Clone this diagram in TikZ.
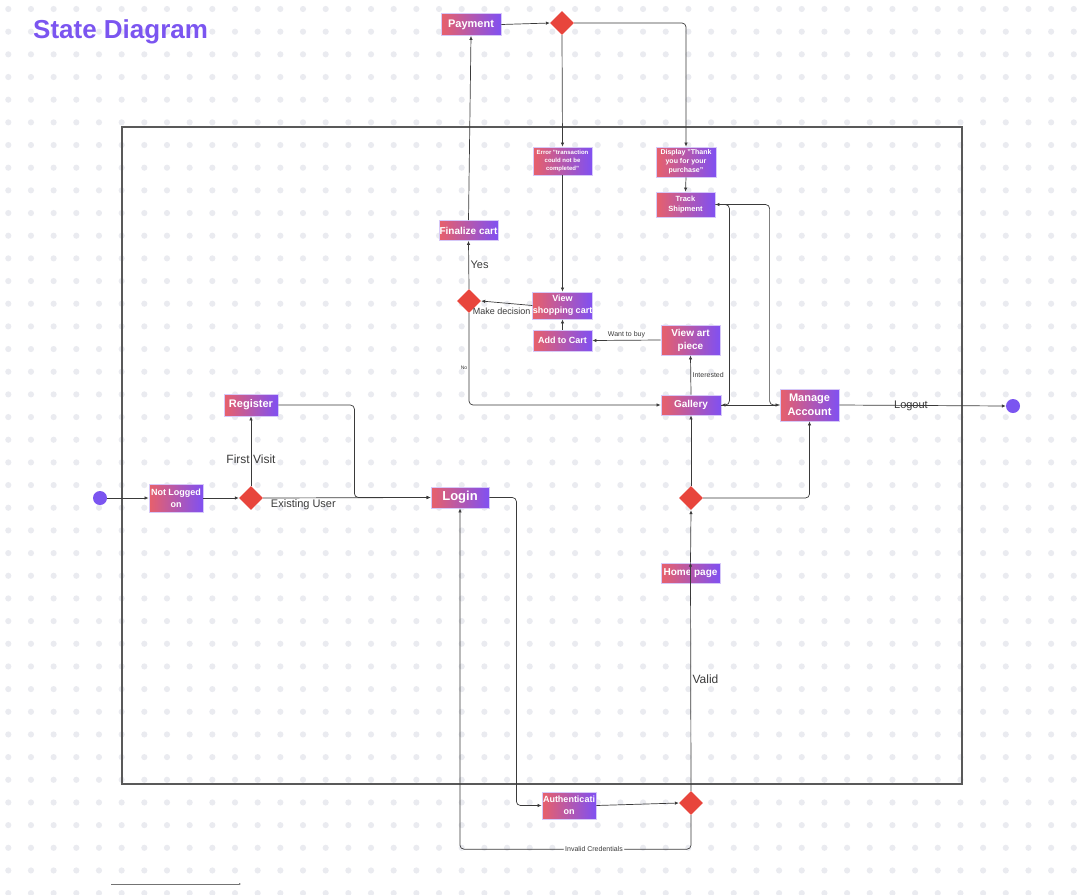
\documentclass[tikz,border=0pt]{standalone}
\usepackage{fontspec}
\setmainfont{Liberation Sans}
\usetikzlibrary{shapes.geometric,arrows.meta}
\definecolor{stred}{HTML}{E8606A}
\definecolor{stpurple}{HTML}{8050F2}
\definecolor{stedge}{HTML}{D6C8F8}
\definecolor{dred}{HTML}{E8453C}
\definecolor{dotgray}{HTML}{EAEBF0}
\definecolor{linegray}{HTML}{3A3A3A}
\definecolor{titlepurple}{HTML}{7B55F0}
\tikzset{
  state/.style={draw=stedge, line width=0.8pt, left color=stred, right color=stpurple,
    text=white, inner sep=0pt, align=center},
  choice/.style={diamond, fill=dred, inner sep=0pt, minimum size=24pt},
  dot/.style={circle, fill=titlepurple, inner sep=0pt, minimum size=14pt},
  conn/.style={draw=linegray, line width=0.7pt, -{Latex[length=4pt,width=3.5pt]}},
  lbl/.style={text=linegray, inner sep=1.5pt}
}
\newcommand{\fs}[1]{\fontsize{#1}{\the\dimexpr #1pt*13/10\relax}\selectfont}
\begin{document}
\begin{tikzpicture}[x=1pt,y=-1pt]
\useasboundingbox (0,0) rectangle (1080,895);
\foreach \i in {0,...,47}
  \foreach \j in {0,...,39}
    \fill[dotgray] (8.3+22.67*\i,9+22.67*\j) circle (3.1);
\node[anchor=base west, inner sep=0pt, text=titlepurple, font=\fontsize{26}{30}\selectfont\bfseries] (title) at (33,38) {State Diagram};
\draw[line width=1.2pt, draw=black!65] (122,127) rectangle (962,784);

% states
\node[state, minimum width=60pt, minimum height=22pt, font=\fs{11}\bfseries] (pay) at (471,24.5) {Payment};
\node[choice] (dpay) at (562,23) {};
\node[state, minimum width=59pt, minimum height=28pt, font=\fs{6}\bfseries] (err) at (562.5,161) {Error "transaction\\could not be\\completed"};
\node[state, minimum width=60pt, minimum height=30pt, font=\fs{7}\bfseries] (disp) at (686,162) {Display "Thank\\you for your\\purchase"};
\node[state, minimum width=59pt, minimum height=25pt, font=\fs{7.5}\bfseries] (track) at (685.5,204.5) {Track\\Shipment};
\node[state, minimum width=59pt, minimum height=20pt, font=\fs{10}\bfseries] (fin) at (468.5,230.5) {Finalize cart};
\node[choice] (ddec) at (469,301) {};
\node[state, minimum width=59pt, minimum height=27pt, font=\fs{9}\bfseries] (view) at (562.5,305.5) {View\\shopping cart};
\node[state, minimum width=59pt, minimum height=21pt, font=\fs{9}\bfseries] (add) at (562.5,340.5) {Add to Cart};
\node[state, minimum width=59pt, minimum height=30pt, font=\fs{10}\bfseries] (art) at (690.5,340) {View art\\piece};
\node[state, minimum width=60pt, minimum height=20pt, font=\fs{10}\bfseries] (gal) at (691,405) {Gallery};
\node[state, minimum width=59pt, minimum height=32pt, font=\fs{11}\bfseries] (man) at (809.5,405) {Manage\\Account};
\node[dot] (fin dot) at (1013,406) {};
\node[dot] (start) at (100,498) {};
\node[state, minimum width=54pt, minimum height=28pt, font=\fs{9}\bfseries] (nlo) at (176,498) {Not Logged\\on};
\node[choice] (dvisit) at (251,498) {};
\node[state, minimum width=54pt, minimum height=22pt, font=\fs{11}\bfseries] (reg) at (251,405) {Register};
\node[state, minimum width=58pt, minimum height=21pt, font=\fs{13}\bfseries] (login) at (460,497.5) {Login};
\node[state, minimum width=54pt, minimum height=27pt, font=\fs{9}\bfseries] (auth) at (569,805.5) {Authenticati\\on};
\node[choice] (dauth) at (691,803) {};
\node[state, minimum width=59pt, minimum height=20pt, font=\fs{10}\bfseries] (home) at (690.5,573) {Home page};
\node[choice] (dhome) at (691,498) {};

% transitions
\draw[conn] (pay.east) -- (dpay.west);
\draw[conn, rounded corners=4pt] (dpay.east) -| (disp.north);
\draw[conn] (dpay.south) -- (err.north);
\draw[conn] (disp.south) -- (track.north);
\draw[conn] (fin.north) -- (pay.south);
\draw[conn] (ddec.north) -- node[lbl, right, font=\fs{11}] {Yes} (fin.south);
\draw[conn] (err.south) -- (view.north);
\draw[conn] (view.west) -- node[lbl, pos=0.6, below=3pt, font=\fs{9}] {Make decision} (ddec.east);
\draw[conn] (add.north) -- (view.south);
\draw[conn] (art.west) -- node[lbl, above, font=\fs{7}] {Want to buy} (add.east);
\draw[conn] (gal.north) -- node[lbl, right, font=\fs{7}] {Interested} (art.south);
\draw[conn, rounded corners=4pt] (ddec.south) |- node[lbl, pos=0.3, left, font=\fs{5}] {No} (gal.west);
\draw[conn, rounded corners=4pt] (track.east) -- ++(14,0) |- (gal.east);
\draw[conn, rounded corners=4pt] (man.west) -- ++(-10,0) |- (track.east);
\draw[conn] (gal.east) -- (man.west);
\draw[conn] (man.east) -- node[lbl, pos=0.43, font=\fs{11}] {Logout} (fin dot.west);
\draw[conn] (start.east) -- (nlo.west);
\draw[conn] (nlo.east) -- (dvisit.west);
\draw[conn] (dvisit.north) -- node[lbl, pos=0.38, font=\fs{12}] {First Visit} (reg.south);
\draw[conn] (dvisit.east) -- node[lbl, pos=0.24, below, font=\fs{11}] {Existing User} (login.west);
\draw[conn, rounded corners=4pt] (reg.east) -- ++(76,0) |- (login.west);
\draw[conn, rounded corners=4pt] (login.east) -- ++(27,0) |- (auth.west);
\draw[conn] (auth.east) -- (dauth.west);
\draw[conn] (dauth.north) -- node[lbl, pos=0.49, right, font=\fs{12}] {Valid} (home.north);
\draw[conn] (home.north) -- (dhome.south);
\draw[conn] (dhome.north) -- (gal.south);
\draw[conn, rounded corners=4pt] (dhome.east) -| (man.south);
\draw[conn, rounded corners=4pt] (dauth.south) -- ++(0,34) -| node[lbl, pos=0.21, fill=white, font=\fs{7}] {Invalid Credentials} (login.south);

\coordinate (stray a) at (111,884);
\coordinate (stray b) at (241,884);
\draw[conn, draw=black!55, -{Latex[length=2pt,width=2pt]}] (stray a) -- (stray b);
\end{tikzpicture}
\end{document}
